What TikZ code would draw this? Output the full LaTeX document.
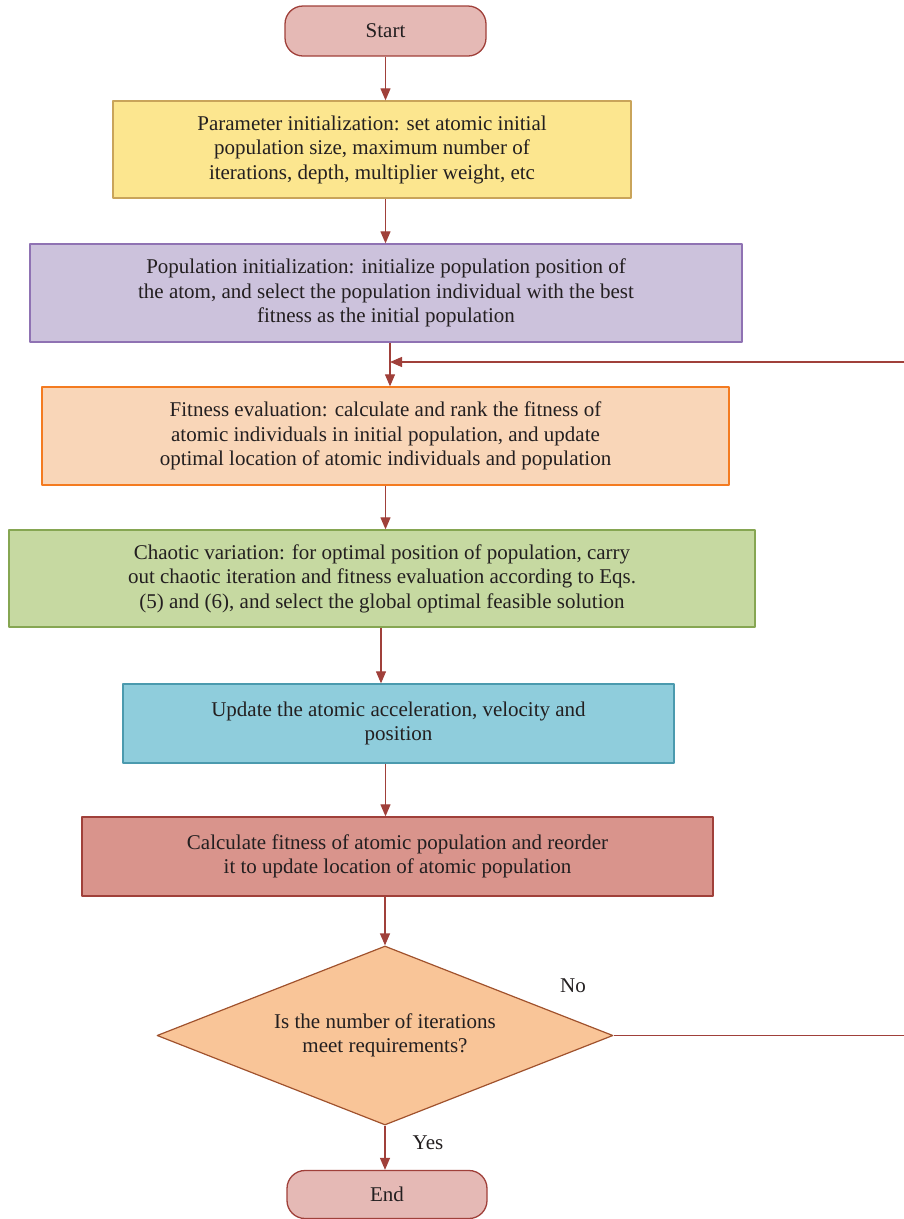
\documentclass[tikz,border=0pt]{standalone}
\usepackage{fontspec}
\setmainfont{Liberation Serif}
\usetikzlibrary{arrows.meta,shapes.geometric}
\definecolor{linered}{HTML}{A0403A}
\definecolor{txt}{HTML}{231F20}
\tikzset{
  box/.style={draw,line width=1.3pt,align=center,inner sep=0pt,text=txt,font=\fontsize{21}{24.5}\selectfont},
  term/.style={box,rounded corners=18pt,draw=linered,fill={rgb,255:red,229;green,185;blue,181}},
  flow/.style={draw=linered,line width=1.2pt,-{Triangle[length=12pt,width=10pt]}},
  link/.style={draw=linered,line width=1.2pt},
}
\begin{document}
\begin{tikzpicture}[x=1pt,y=-1pt,line join=round]
  \useasboundingbox (0,0) rectangle (903,1219);
  \node[term,minimum width=201pt,minimum height=50pt] (start) at (385.5,31) {Start};
  \node[box,draw={rgb,255:red,201;green,164;blue,90},fill={rgb,255:red,252;green,230;blue,143},
        minimum width=518pt,minimum height=97pt] (init) at (372,149.5)
        {Parameter initialization: set atomic initial\\population size, maximum number of\\iterations, depth, multiplier weight, etc};
  \node[box,draw={rgb,255:red,143;green,114;blue,179},fill={rgb,255:red,204;green,194;blue,220},
        minimum width=712pt,minimum height=98pt] (popinit) at (386,293)
        {Population initialization: initialize population position of\\the atom, and select the population individual with the best\\fitness as the initial population};
  \node[box,draw={rgb,255:red,244;green,123;blue,32},fill={rgb,255:red,249;green,214;blue,184},
        minimum width=687pt,minimum height=98pt] (fiteval) at (385.5,436)
        {Fitness evaluation: calculate and rank the fitness of\\atomic individuals in initial population, and update\\optimal location of atomic individuals and population};
  \node[box,draw={rgb,255:red,134;green,166;blue,82},fill={rgb,255:red,198;green,217;blue,161},
        minimum width=746pt,minimum height=97pt] (chaos) at (382,578.5)
        {Chaotic variation: for optimal position of population, carry\\out chaotic iteration and fitness evaluation according to Eqs.\\(5) and (6), and select the global optimal feasible solution};
  \node[box,draw={rgb,255:red,75;green,154;blue,174},fill={rgb,255:red,143;green,205;blue,220},
        minimum width=551pt,minimum height=79pt] (update) at (398.5,723.5)
        {Update the atomic acceleration, velocity and\\position};
  \node[box,draw=linered,fill={rgb,255:red,217;green,148;blue,140},
        minimum width=631pt,minimum height=79pt] (refit) at (397.5,856.5)
        {Calculate fitness of atomic population and reorder\\it to update location of atomic population};
  \node[box,diamond,aspect=2.55,draw={rgb,255:red,160;green,82;blue,45},fill={rgb,255:red,249;green,197;blue,152},
        line width=1.2pt,minimum width=456pt,minimum height=179pt] (check) at (385,1035.5)
        {Is the number of iterations\\meet requirements?};
  \node[term,minimum width=200pt,minimum height=48pt] (stop) at (387,1194.5) {End};
  \coordinate (merge) at (390,362);
  \coordinate (rbot) at (906,1035.5);
  \coordinate (rtop) at (906,362);
  \draw[flow] (start.south) -- (start.south |- init.north);
  \draw[flow] (init.south -| start.south) -- (start.south |- popinit.north);
  \draw[flow] (popinit.south -| merge) -- (merge |- fiteval.north);
  \draw[flow] (fiteval.south -| start.south) -- (start.south |- chaos.north);
  \draw[flow] (chaos.south -| 381,0) -- (381,0 |- update.north);
  \draw[flow] (update.south -| start.south) -- (start.south |- refit.north);
  \draw[flow] (refit.south -| check.north) -- (check.north);
  \draw[flow] (check.south) -- (check.south |- stop.north);
  \draw[link] (check.east) -- (rbot) -- (rtop);
  \draw[flow] (rtop) -- (merge);
  \node[text=txt,font=\fontsize{21}{24.5}\selectfont] (nolab) at (573,986) {No};
  \node[text=txt,font=\fontsize{21}{24.5}\selectfont] (yeslab) at (428,1143) {Yes};
\end{tikzpicture}
\end{document}
